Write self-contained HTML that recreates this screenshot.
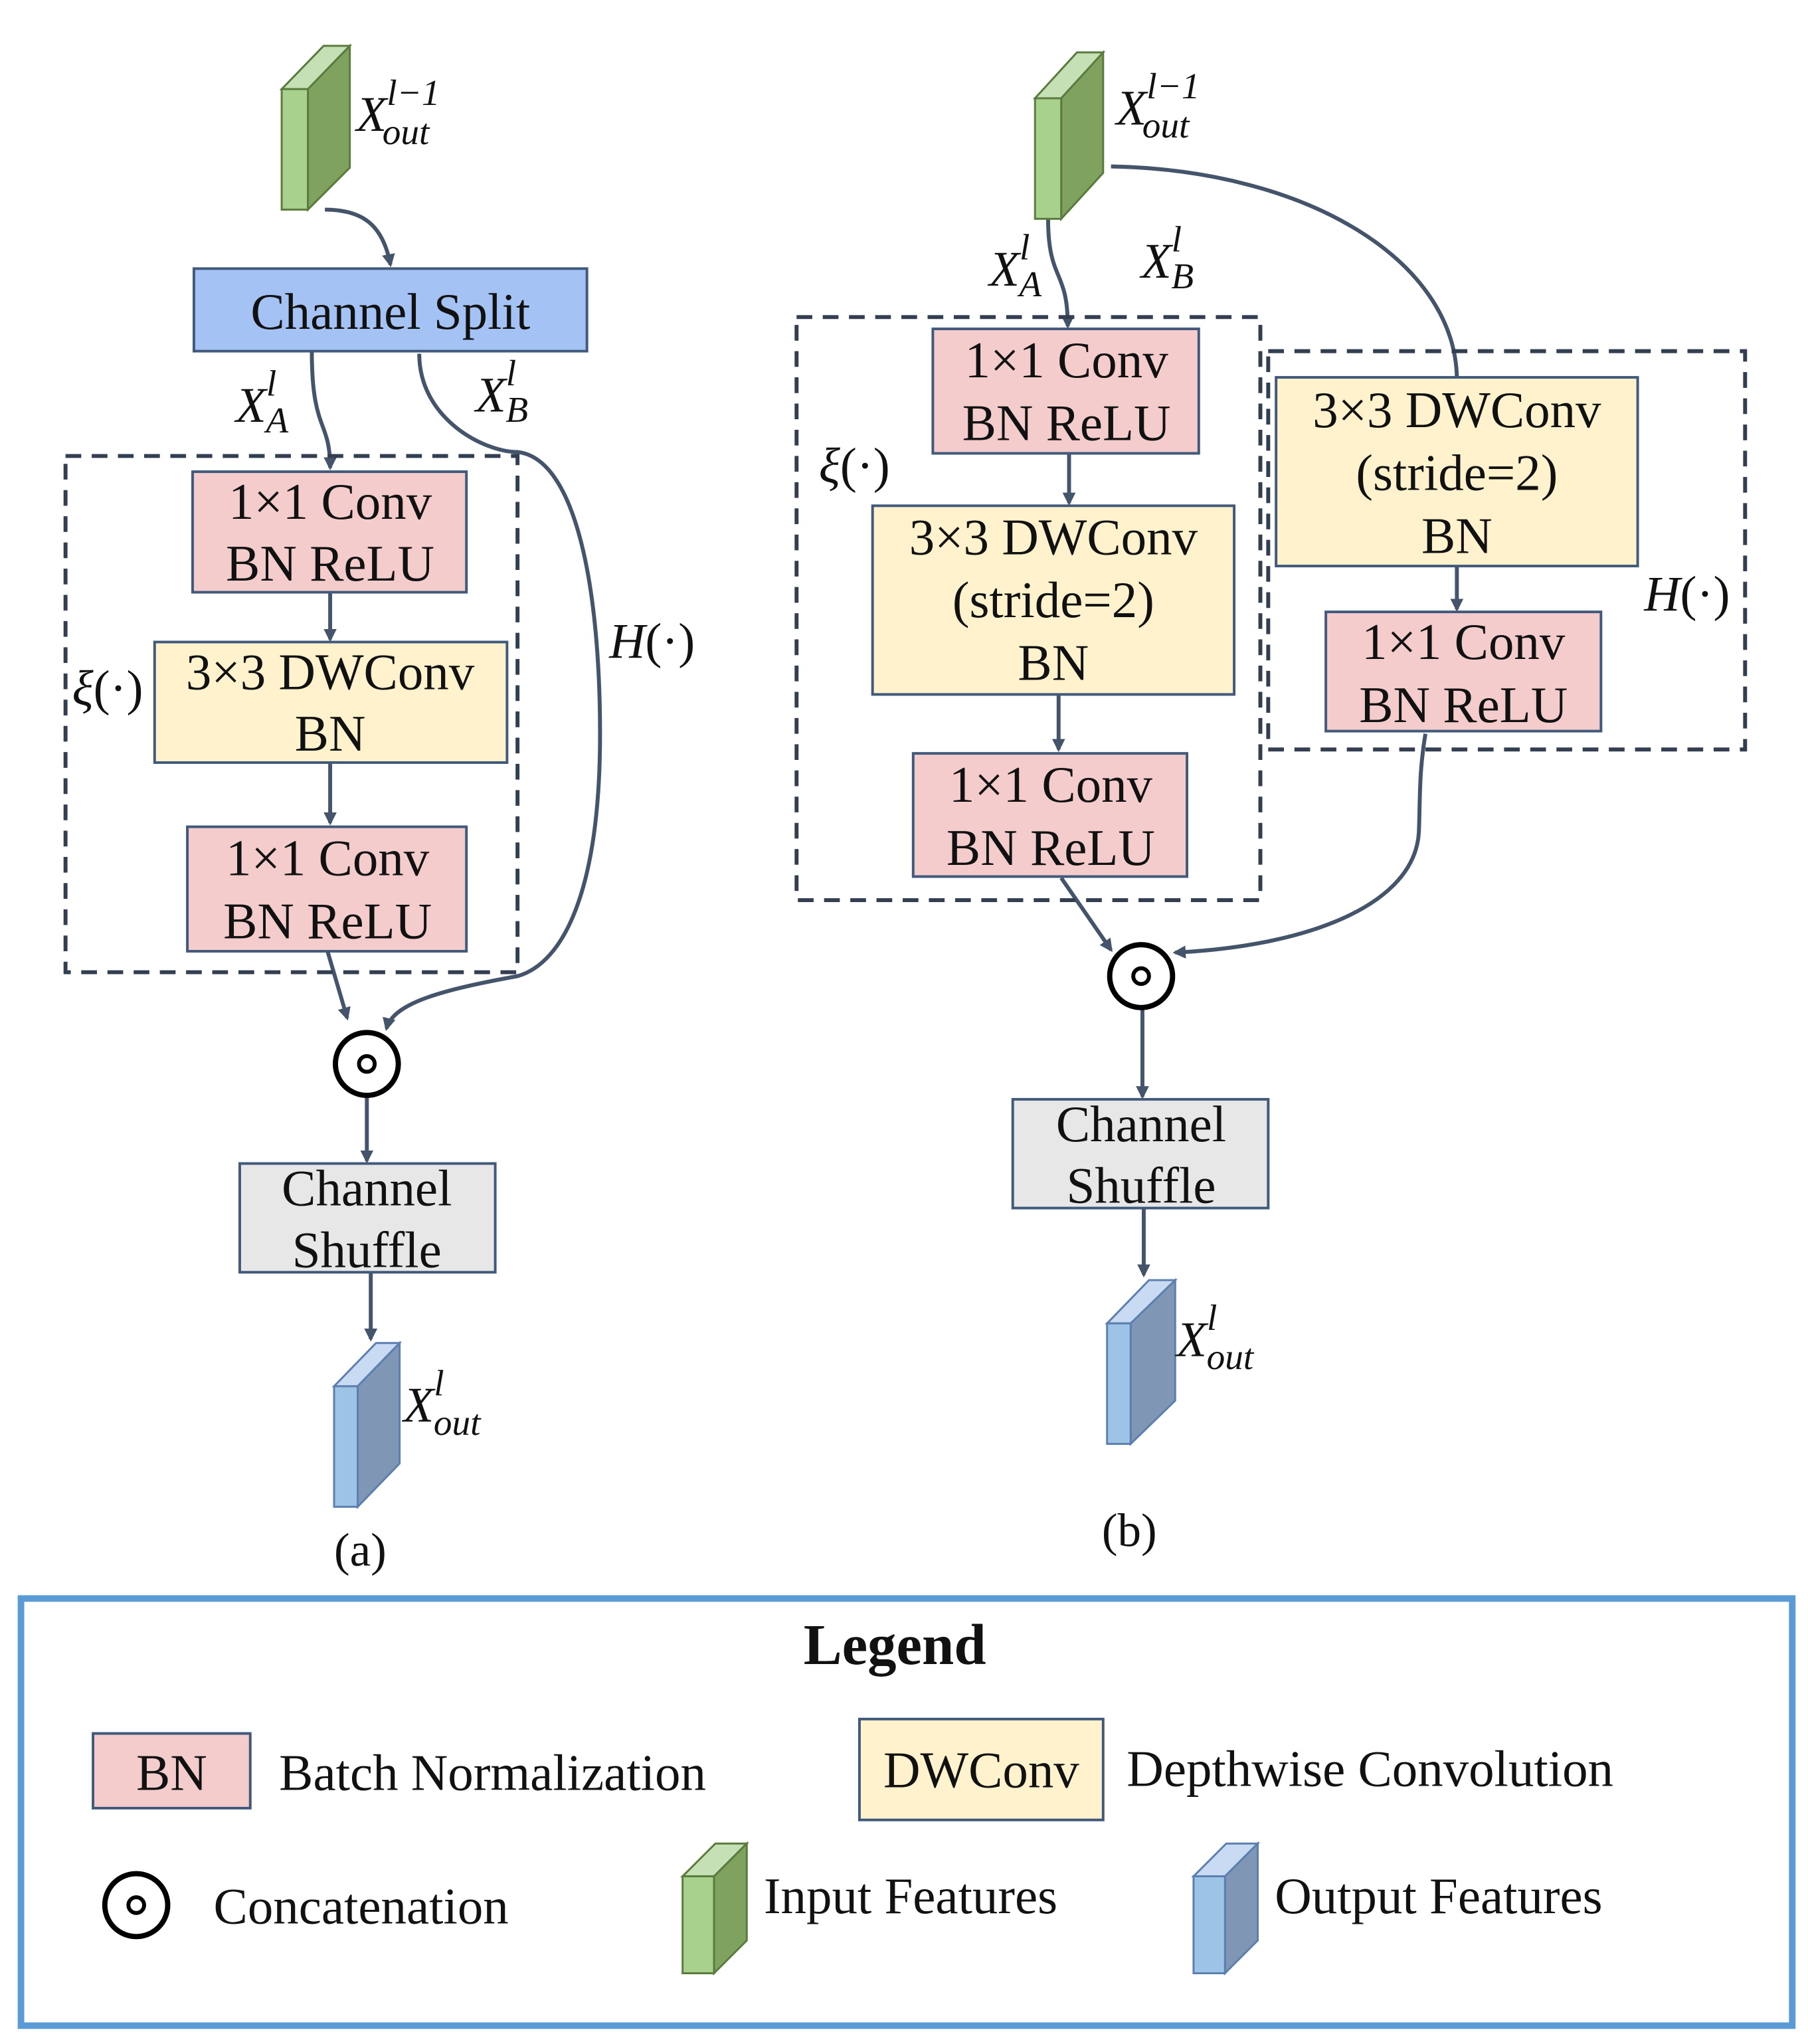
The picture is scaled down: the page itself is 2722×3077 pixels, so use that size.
<!DOCTYPE html>
<html><head><meta charset="utf-8"><style>
html,body{margin:0;padding:0;background:#fff;}
svg{display:block;}
text{font-family:"Liberation Serif","DejaVu Serif",serif;fill:#111;}
</style></head><body>
<svg width="2722" height="3077" viewBox="0 0 1380 1560" xmlns="http://www.w3.org/2000/svg" font-family="Liberation Serif, DejaVu Serif, serif">
<defs>
<marker id="ar" markerWidth="10" markerHeight="10" refX="8" refY="5" orient="auto" markerUnits="userSpaceOnUse">
<path d="M0,0 L10,5 L0,10 z" fill="#44546a"/></marker>
</defs>
<rect width="1380" height="1560" fill="#fff"/>
<g stroke="#44546a" stroke-width="3" fill="none">
<path d="M248,160 C275,160 292,170 298,202" marker-end="url(#ar)"/>
<path d="M238,268 C238,330 252,320 252,357" marker-end="url(#ar)"/>
<path d="M320,270 C320,320 370,345 395,345 C440,350 458,450 458,560 C458,680 430,735 395,745 C340,755 300,765 295,785" marker-end="url(#ar)"/>
<path d="M252,452 L252,488" marker-end="url(#ar)"/>
<path d="M252,582 L252,628" marker-end="url(#ar)"/>
<path d="M250,726 L265,777" marker-end="url(#ar)"/>
<path d="M280,837 L280,886" marker-end="url(#ar)"/>
<path d="M283,971 L283,1022" marker-end="url(#ar)"/>
<path d="M800,167 C800,215 815,205 815,249" marker-end="url(#ar)"/>
<path d="M848,127 C1000,130 1110,200 1112,288"/>
<path d="M816,346 L816,384" marker-end="url(#ar)"/>
<path d="M808,530 L808,572" marker-end="url(#ar)"/>
<path d="M810,670 L848,725" marker-end="url(#ar)"/>
<path d="M1112,432 L1112,465" marker-end="url(#ar)"/>
<path d="M1088,560 C1083,590 1084,610 1083,635 C1080,690 1000,722 897,727" marker-end="url(#ar)"/>
<path d="M872,770 L872,837" marker-end="url(#ar)"/>
<path d="M873,922 L873,973" marker-end="url(#ar)"/>
</g>
<g stroke="#333f50" stroke-width="3" fill="none" stroke-dasharray="12,8">
<rect x="50" y="348" width="345" height="394"/>
<rect x="608" y="242" width="354" height="445"/>
<rect x="968" y="268" width="364" height="304"/>
</g>
<g stroke="#41597a" stroke-width="2">
<rect x="148" y="205" width="300" height="63" fill="#a4c2f4"/>
<rect x="147" y="360" width="209" height="92" fill="#f4cccc"/>
<rect x="118" y="490" width="269" height="92" fill="#fff2cc"/>
<rect x="143" y="631" width="213" height="95" fill="#f4cccc"/>
<rect x="183" y="888" width="195" height="83" fill="#e7e7e7"/>
<rect x="712" y="251" width="203" height="95" fill="#f4cccc"/>
<rect x="666" y="386" width="276" height="144" fill="#fff2cc"/>
<rect x="697" y="575" width="209" height="94" fill="#f4cccc"/>
<rect x="974" y="288" width="276" height="144" fill="#fff2cc"/>
<rect x="1012" y="467" width="210" height="91" fill="#f4cccc"/>
<rect x="773" y="839" width="195" height="83" fill="#e7e7e7"/>
<rect x="71" y="1323" width="120" height="57" fill="#f4cccc"/>
<rect x="656" y="1312" width="186" height="77" fill="#fff2cc"/>
</g>
<g stroke="#000" stroke-width="4" fill="#fff">
<circle cx="280" cy="812" r="24"/><circle cx="280" cy="812" r="6" stroke-width="3"/>
<circle cx="871" cy="745" r="24"/><circle cx="871" cy="745" r="6" stroke-width="3"/>
<circle cx="104" cy="1454" r="24"/><circle cx="104" cy="1454" r="6" stroke-width="3"/>
</g>
<g stroke="#5b7a3e" stroke-width="1.5">
<polygon points="215,68 247,35 267,35 235,68" fill="#c5e0b4"/>
<polygon points="235,68 267,35 267,128 235,160" fill="#7fa35e"/>
<rect x="215" y="68" width="20" height="92" fill="#a9d18e"/>
<polygon points="790,75 822,40 842,40 810,75" fill="#c5e0b4"/>
<polygon points="810,75 842,40 842,132 810,167" fill="#7fa35e"/>
<rect x="790" y="75" width="20" height="92" fill="#a9d18e"/>
<polygon points="521,1432 546,1407 570,1407 545,1432" fill="#c5e0b4"/>
<polygon points="545,1432 570,1407 570,1481 545,1506" fill="#7fa35e"/>
<rect x="521" y="1432" width="24" height="74" fill="#a9d18e"/>
</g>
<g stroke="#5b7fae" stroke-width="1.5">
<polygon points="255,1058 287,1025 305,1025 273,1058" fill="#c9dbf2"/>
<polygon points="273,1058 305,1025 305,1117 273,1150" fill="#7f97b5"/>
<rect x="255" y="1058" width="18" height="92" fill="#9dc3e6"/>
<polygon points="845,1010 877,977 897,977 863,1010" fill="#c9dbf2"/>
<polygon points="863,1010 897,977 897,1069 863,1102" fill="#7f97b5"/>
<rect x="845" y="1010" width="18" height="92" fill="#9dc3e6"/>
<polygon points="911,1432 936,1407 960,1407 935,1432" fill="#c9dbf2"/>
<polygon points="935,1432 960,1407 960,1481 935,1506" fill="#7f97b5"/>
<rect x="911" y="1432" width="24" height="74" fill="#9dc3e6"/>
</g>
<rect x="16" y="1220" width="1352" height="326" fill="none" stroke="#5b9bd5" stroke-width="5"/>
<g font-size="39" text-anchor="middle">
<text x="298" y="251">Channel Split</text>
<text x="252" y="396">1×1 Conv</text><text x="252" y="443">BN ReLU</text>
<text x="252" y="526">3×3 DWConv</text><text x="252" y="573">BN</text>
<text x="250" y="668">1×1 Conv</text><text x="250" y="716">BN ReLU</text>
<text x="280" y="920">Channel</text><text x="280" y="967">Shuffle</text>
<text x="814" y="288">1×1 Conv</text><text x="814" y="336">BN ReLU</text>
<text x="804" y="423">3×3 DWConv</text><text x="804" y="471">(stride=2)</text><text x="804" y="519">BN</text>
<text x="802" y="612">1×1 Conv</text><text x="802" y="660">BN ReLU</text>
<text x="1112" y="326">3×3 DWConv</text><text x="1112" y="374">(stride=2)</text><text x="1112" y="422">BN</text>
<text x="1117" y="503">1×1 Conv</text><text x="1117" y="551">BN ReLU</text>
<text x="871" y="871">Channel</text><text x="871" y="918">Shuffle</text>
<text x="131" y="1366">BN</text>
<text x="749" y="1364">DWConv</text>
<text x="275" y="1195" font-size="36">(a)</text><text x="862" y="1180" font-size="36">(b)</text>
</g>
<g font-size="39">
<text x="213" y="1366">Batch Normalization</text>
<text x="860" y="1363">Depthwise Convolution</text>
<text x="163" y="1468">Concatenation</text>
<text x="583" y="1460">Input Features</text>
<text x="973" y="1460">Output Features</text>
</g>
<text x="683" y="1270" font-size="44" font-weight="bold" text-anchor="middle">Legend</text>
<g font-style="italic" font-size="38">
<text x="272" y="100">X<tspan font-size="28" dy="-20">l−1</tspan><tspan font-size="28" dx="-44" dy="30">out</tspan></text>
<text x="852" y="95">X<tspan font-size="28" dy="-20">l−1</tspan><tspan font-size="28" dx="-44" dy="30">out</tspan></text>
<text x="180" y="322">X<tspan font-size="28" dy="-20">l</tspan><tspan font-size="28" dx="-8" dy="28">A</tspan></text>
<text x="363" y="314">X<tspan font-size="28" dy="-20">l</tspan><tspan font-size="28" dx="-8" dy="28">B</tspan></text>
<text x="755" y="218">X<tspan font-size="28" dy="-20">l</tspan><tspan font-size="28" dx="-8" dy="28">A</tspan></text>
<text x="871" y="212">X<tspan font-size="28" dy="-20">l</tspan><tspan font-size="28" dx="-8" dy="28">B</tspan></text>
<text x="308" y="1085">X<tspan font-size="28" dy="-20">l</tspan><tspan font-size="28" dx="-8" dy="30">out</tspan></text>
<text x="898" y="1035">X<tspan font-size="28" dy="-20">l</tspan><tspan font-size="28" dx="-8" dy="30">out</tspan></text>
<text x="465" y="502">H<tspan font-style="normal">(·)</tspan></text>
<text x="1255" y="466">H<tspan font-style="normal">(·)</tspan></text>
<text x="55" y="538">ξ<tspan font-style="normal">(·)</tspan></text>
<text x="625" y="368">ξ<tspan font-style="normal">(·)</tspan></text>
</g>
</svg>
</body></html>
